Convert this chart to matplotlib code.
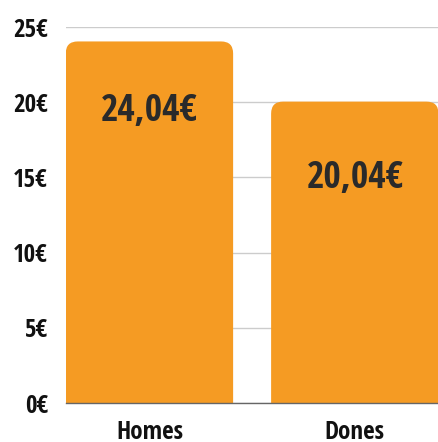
import matplotlib
matplotlib.use("Agg")
import matplotlib.pyplot as plt
from matplotlib.patches import FancyBboxPatch
from matplotlib import font_manager as fm

categories = ["Homes", "Dones"]
values = [24.04, 20.04]
value_labels = ["24,04€", "20,04€"]
yticks = [0, 5, 10, 15, 20, 25]
ytick_labels = ["0€", "5€", "10€", "15€", "20€", "25€"]

names = {f.name for f in fm.fontManager.ttflist}
fam = None
for cand in ["Liberation Sans Narrow", "DejaVu Sans Condensed", "Open Sans Condensed", "DejaVu Sans"]:
    if cand in names:
        fam = cand
        break
plt.rcParams['font.family'] = [fam, 'DejaVu Sans']

fig = plt.figure(figsize=(4.39, 4.42), dpi=100)
ax = fig.add_axes([0.150, 0.0882, 0.850, 0.8507])

orange = "#F59B23"
width = 0.815
xs = list(range(len(categories)))
r_x = 12 / 205.5
r_y = 12 / 15.04
for x, v in zip(xs, values):
    p = FancyBboxPatch((x - width / 2, -3), width, v + 3,
                       boxstyle=f"round,pad=0,rounding_size={r_x}",
                       mutation_aspect=r_y / r_x,
                       facecolor=orange, edgecolor="none", zorder=2)
    p.set_clip_path(ax.patch)
    ax.add_patch(p)

offsets = [-50, -55]
for x, v, lab, off in zip(xs, values, value_labels, offsets):
    ax.annotate(lab, (x, v), xytext=(0, off), textcoords="offset points",
                ha="center", va="center", fontsize=27, fontweight="bold",
                color="#2a2a2a", zorder=3)

ax.set_xlim(-0.407, 1.41)
ax.set_ylim(0, 25)
ax.set_yticks(yticks)
ax.set_yticklabels(ytick_labels, fontsize=18, fontweight="bold", color="#111111")
ax.set_xticks(xs)
ax.set_xticklabels(categories, fontsize=18, fontweight="bold", color="#111111")
ax.tick_params(axis="both", length=0)
ax.tick_params(axis="y", pad=13)
ax.tick_params(axis="x", pad=12)
ax.grid(axis="y", color="#cccccc", linewidth=1, zorder=0)
ax.set_axisbelow(True)
for s in ["top", "right", "left"]:
    ax.spines[s].set_visible(False)
ax.spines["bottom"].set_color("#666666")
ax.spines["bottom"].set_linewidth(1)
ax.spines["bottom"].set_zorder(4)
ax.set_facecolor("white")

fig.savefig("out.png", dpi=100)
